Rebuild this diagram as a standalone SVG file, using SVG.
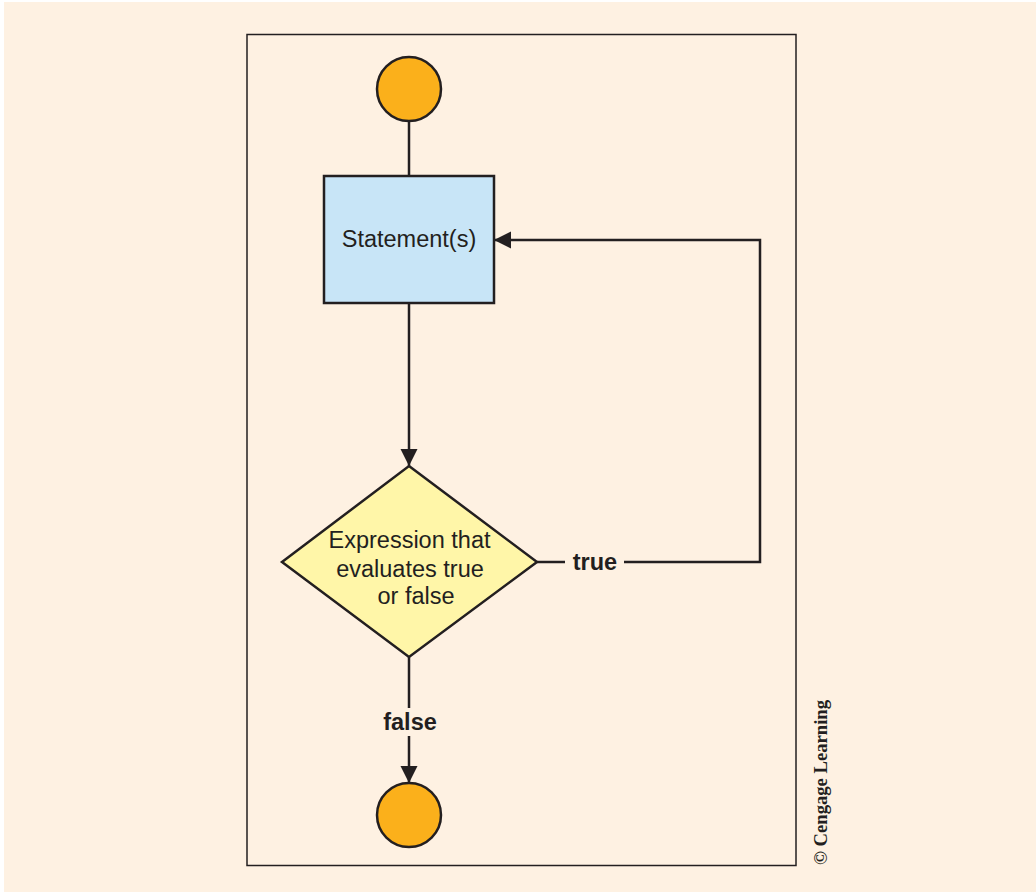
<svg xmlns="http://www.w3.org/2000/svg" width="1036" height="894" viewBox="0 0 1036 894">
  <style>
    .ln { fill: none; stroke: #231f20; stroke-width: 2.5; }
    .term { fill: #fbb01b; stroke: #231f20; stroke-width: 2.5; }
    .proc { fill: #c8e5f7; stroke: #231f20; stroke-width: 2.5; }
    .dec { fill: #fff6a8; stroke: #231f20; stroke-width: 2.5; }
    .txt { font-family: "Liberation Sans", Arial, sans-serif; font-size: 23.5px; fill: #231f20; text-anchor: middle; }
    .lbl { font-family: "Liberation Sans", Arial, sans-serif; font-size: 23.5px; font-weight: bold; fill: #231f20; text-anchor: middle; }
    .copy { font-family: "Liberation Serif", "Times New Roman", serif; font-size: 18px; font-weight: bold; fill: #231f20; }
  </style>
  <defs>
    <marker id="arrow" markerUnits="userSpaceOnUse" markerWidth="18" markerHeight="18" refX="17" refY="9" orient="auto">
      <path d="M0,0.5 L17,9 L0,17.5 Z" fill="#231f20"/>
    </marker>
  </defs>

  <!-- page background -->
  <rect x="0" y="0" width="1036" height="894" fill="#ffffff"/>
  <rect x="4" y="2" width="1032" height="890" fill="#fef1e2"/>

  <!-- frame -->
  <rect x="247" y="34.5" width="549" height="831" fill="none" stroke="#231f20" stroke-width="1.5"/>

  <!-- connectors -->
  <g id="connectors">
    <line class="ln" x1="409" y1="121" x2="409" y2="176"/>
    <line class="ln" x1="409" y1="303" x2="409" y2="466" marker-end="url(#arrow)"/>
    <line class="ln" x1="537" y1="562" x2="565" y2="562"/>
    <polyline class="ln" points="624,562 760,562 760,240 494,240" marker-end="url(#arrow)"/>
    <line class="ln" x1="409" y1="657" x2="409" y2="708"/>
    <line class="ln" x1="409" y1="736" x2="409" y2="783" marker-end="url(#arrow)"/>
    <text class="lbl" x="595" y="570">true</text>
    <text class="lbl" x="410" y="730">false</text>
  </g>

  <g id="start">
    <circle class="term" cx="409" cy="89" r="32"/>
  </g>

  <g id="statements">
    <rect class="proc" x="324" y="176" width="170" height="127"/>
    <text class="txt" x="409" y="247">Statement(s)</text>
  </g>

  <g id="condition">
    <polygon class="dec" points="409,466 537,562 409,657 282,562"/>
    <text class="txt" x="409.5" y="548">Expression that</text>
    <text class="txt" x="410" y="577">evaluates true</text>
    <text class="txt" x="416" y="604">or false</text>
  </g>

  <g id="end">
    <circle class="term" cx="409" cy="815" r="32"/>
  </g>

  <text class="copy" transform="translate(827,865) rotate(-90)" textLength="165" lengthAdjust="spacingAndGlyphs">© Cengage Learning</text>
</svg>
